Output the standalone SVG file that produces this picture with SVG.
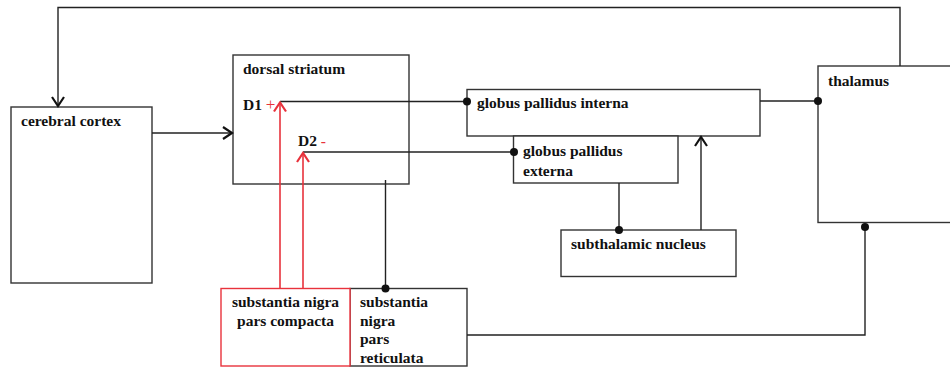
<svg xmlns="http://www.w3.org/2000/svg" width="950" height="370" viewBox="0 0 950 370">
<defs>
<style>
.box{fill:#fff;stroke:#333;stroke-width:1.4}
.red{stroke:#e8323c}
.lbl{font-family:"Liberation Serif","Times New Roman",serif;font-weight:bold;font-size:15.5px;fill:#111}
.conn{fill:none;stroke:#222;stroke-width:1.4}
.rconn{fill:none;stroke:#e8323c;stroke-width:1.6}
.dot{fill:#111}
</style>
<marker id="ah" markerWidth="13" markerHeight="14" refX="11" refY="7" orient="auto" markerUnits="userSpaceOnUse">
<path d="M2,1 L11,7 L2,13" fill="none" stroke="#111" stroke-width="2.2"/>
</marker>
<marker id="ahr" markerWidth="13" markerHeight="14" refX="11" refY="7" orient="auto" markerUnits="userSpaceOnUse">
<path d="M2,1 L11,7 L2,13" fill="none" stroke="#e8323c" stroke-width="2.2"/>
</marker>
</defs>
<rect width="950" height="370" fill="#fff"/>

<g id="cortex">
<rect class="box" x="11" y="107" width="141" height="176"/>
<text class="lbl" x="21" y="126">cerebral cortex</text>
</g>
<g id="striatum">
<rect class="box" x="233" y="55" width="176" height="129"/>
<text class="lbl" x="243" y="74">dorsal striatum</text>
<text class="lbl" x="243" y="110">D1 <tspan fill="#e8323c" font-weight="normal" font-size="17px">+</tspan></text>
<text class="lbl" x="298" y="146">D2 <tspan fill="#e8323c">-</tspan></text>
</g>
<g id="gpi">
<rect class="box" x="467" y="89.5" width="293" height="46.5"/>
<text class="lbl" x="477" y="108">globus pallidus interna</text>
</g>
<g id="gpe">
<rect class="box" x="513.5" y="136" width="164.5" height="47"/>
<text class="lbl" x="523" y="156">globus pallidus</text>
<text class="lbl" x="523" y="176">externa</text>
</g>
<g id="stn">
<rect class="box" x="561" y="230" width="175" height="46.5"/>
<text class="lbl" x="571" y="249">subthalamic nucleus</text>
</g>
<g id="thalamus">
<rect class="box" x="818" y="66" width="140" height="156.5"/>
<text class="lbl" x="828" y="86">thalamus</text>
</g>
<g id="snr">
<rect class="box" x="350" y="288.5" width="117" height="77.5"/>
<text class="lbl" x="360" y="307">substantia</text>
<text class="lbl" x="360" y="325.5">nigra</text>
<text class="lbl" x="360" y="344">pars</text>
<text class="lbl" x="360" y="362.5">reticulata</text>
</g>
<g id="snc">
<rect class="box red" x="221" y="288.5" width="129" height="77.5" stroke-width="2"/>
<text class="lbl" x="285.5" y="307" text-anchor="middle">substantia nigra</text>
<text class="lbl" x="285.5" y="325.5" text-anchor="middle">pars compacta</text>
</g>

<g id="connectors">
<path class="conn" d="M900,66 V7.5 H58 V106" marker-end="url(#ah)"/>
<path class="conn" d="M152,133 H232" marker-end="url(#ah)"/>
<path class="conn" d="M280,101.5 H467"/>
<circle class="dot" cx="467" cy="101.5" r="4"/>
<path class="conn" d="M303,152 H514"/>
<circle class="dot" cx="514" cy="152" r="4"/>
<path class="conn" d="M760,101 H818"/>
<circle class="dot" cx="818" cy="101" r="4"/>
<path class="conn" d="M619,183 V230"/>
<circle class="dot" cx="619" cy="230" r="4"/>
<path class="conn" d="M701,230 V137" marker-end="url(#ah)"/>
<path class="conn" d="M385.5,180 V288.5"/>
<circle class="dot" cx="385.5" cy="288.5" r="4"/>
<path class="conn" d="M467,335 H865 V227"/>
<circle class="dot" cx="865" cy="227" r="4"/>
<path class="rconn" d="M280,288.5 V102.5" marker-end="url(#ahr)"/>
<path class="rconn" d="M303,288.5 V153" marker-end="url(#ahr)"/>
</g>
</svg>
